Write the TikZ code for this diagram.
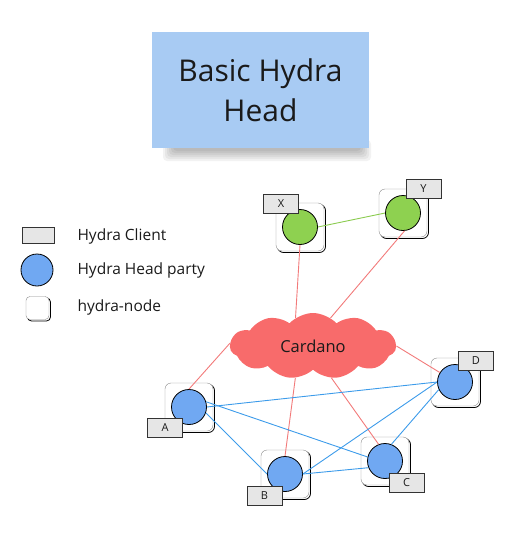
\documentclass[tikz,border=0pt]{standalone}
\usepackage{fontspec}
\setmainfont{Open Sans}
\usetikzlibrary{shapes.symbols,shadows}
\definecolor{stickyblue}{HTML}{A8CBF3}
\definecolor{partyblue}{HTML}{70A8F2}
\definecolor{partygreen}{HTML}{8ED150}
\definecolor{clientgray}{HTML}{E6E6E6}
\definecolor{cardanored}{HTML}{F86B6B}
\definecolor{chainred}{HTML}{F27A7A}
\definecolor{headblue}{HTML}{3C9BEA}
\definecolor{headgreen}{HTML}{8ACB4E}
\definecolor{textgray}{HTML}{1A1A1A}
\begin{document}
\begin{tikzpicture}[x=1pt, y=-1pt, text=textgray,
	party/.style={circle, draw=black, thick, fill=partyblue, minimum size=35pt, inner sep=0pt},
	client/.style={draw=black!80, thick, fill=clientgray, minimum width=35pt, minimum height=19pt, inner sep=0pt, font=\fontsize{11}{12}\selectfont},
	hydranode/.style={draw=black!45, fill=white, rounded corners=6pt, minimum size=48pt, inner sep=0pt,
		drop shadow={shadow xshift=1.5pt, shadow yshift=-1.5pt, opacity=1, fill=white, draw=black, thick}},
	chain/.style={chainred, line width=0.9pt},
	head/.style={headblue, line width=0.9pt}]
	\useasboundingbox (0,0) rectangle (517,533);
	%title
	\foreach \i in {0,...,5}
	\fill[black, opacity=0.05, rounded corners=4pt] (163+2*\i,140) rectangle (371-2*\i,161-2*\i);
	\node[fill=stickyblue, minimum width=217pt, minimum height=116pt, inner sep=0pt,
		align=center, font=\fontsize{30}{40}\selectfont] (title) at (260.5,90) {Basic Hydra\\Head};
	%legend
	\node[draw=black!80, thick, fill=clientgray, minimum width=32pt, minimum height=16pt, inner sep=0pt] (legendclient) at (38,235.5) {};
	\node[party, minimum size=32pt] (legendparty) at (37,270) {};
	\node[hydranode, minimum size=23pt, rounded corners=4pt] (legendnode) at (37.5,308) {};
	\node[anchor=west, font=\fontsize{15.5}{18}\selectfont] at (74,236) {Hydra Client};
	\node[anchor=west, font=\fontsize{15.5}{18}\selectfont] at (74,270) {Hydra Head party};
	\node[anchor=west, font=\fontsize{15.5}{18}\selectfont] at (74,307) {hydra-node};
	%nodes
	\foreach \n/\x/\y/\col in {X/300/227/partygreen, Y/403/213/partygreen,
		A/189/407/partyblue, B/285/474/partyblue, C/385/461/partyblue, D/455/382/partyblue}
	{
		\node[hydranode] (node\n) at (\x,\y) {};
		\node[party, fill=\col] (party\n) at (\x,\y) {};
	}
	%chain
	\node[cloud, cloud puffs=11, cloud puff arc=95, cloud ignores aspect, fill=cardanored, inner sep=0pt,
		minimum width=166pt, minimum height=66pt, font=\fontsize{16.5}{20}\selectfont] (cardano) at (313,346) {Cardano};
	\draw[chain] (partyX.south) -- (cardano.122);
	\draw[chain] (partyY.275) -- (cardano.58);
	\draw[chain] (partyA.north) -- (cardano.178);
	\draw[chain] (partyB.north) -- (cardano.241);
	\draw[chain] (partyC.111) -- (cardano.300);
	\draw[chain] (partyD.148) -- (cardano.0);
	%heads
	\draw[headgreen, line width=0.9pt] (partyX.east) -- (partyY.west);
	\draw[head] (partyA.east) -- (partyD.west);
	\draw[head] (partyA.17) -- (partyC.167);
	\draw[head] (partyA.-19) -- (partyB.west);
	\draw[head] (partyB.east) -- (partyD.west);
	\draw[head] (partyB.east) -- (partyC.202);
	\draw[head] (partyC.69) -- (partyD.205);
	%clients
	\node[client] (clientX) at (281,203.5) {X};
	\node[client] (clientY) at (423.5,188.5) {Y};
	\node[client] (clientA) at (165,427.5) {A};
	\node[client] (clientB) at (264.5,495.5) {B};
	\node[client] (clientC) at (406.5,483) {C};
	\node[client] (clientD) at (476,360.5) {D};
\end{tikzpicture}
\end{document}
